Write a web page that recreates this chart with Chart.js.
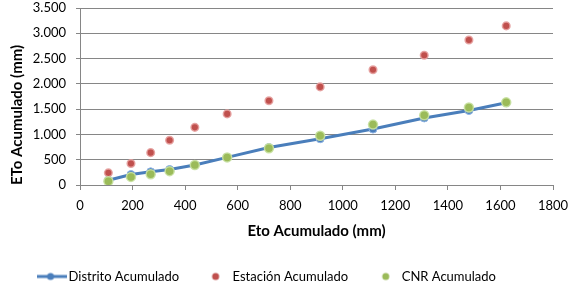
<!DOCTYPE html>
<html>
<head>
<meta charset="utf-8">
<script src="https://cdn.jsdelivr.net/npm/chart.js@4"></script>
<style>
  html, body { margin: 0; padding: 0; background: #fff; }
  #wrap { width: 569px; height: 287px; }
</style>
</head>
<body>
<div id="wrap"><canvas id="myChart"></canvas></div>
<script>
// Valores
const etoX = [108, 194, 269, 341, 437, 560, 719, 914, 1115, 1310, 1480, 1622];
const distrito = [94, 206, 260, 306, 394, 546, 740, 914, 1106, 1326, 1474, 1626];
const estacion = [240, 426, 640, 886, 1140, 1406, 1666, 1940, 2280, 2566, 2866, 3146];
const cnr = [74, 160, 214, 274, 394, 546, 726, 974, 1194, 1380, 1534, 1634];
const seriesNames = ["Distrito Acumulado", "Estación Acumulado", "CNR Acumulado"];
const yTicks = [0, 500, 1000, 1500, 2000, 2500, 3000, 3500];
const xTicks = [0, 200, 400, 600, 800, 1000, 1200, 1400, 1600, 1800];

const blue = "#4a7ebb", red = "#c0504d", green = "#9bbb59";
const font = "Lato, 'Open Sans', sans-serif";

// Puntos {x, y} a partir de los arrays
const toPoints = (ys) => etoX.map((x, i) => ({ x: x, y: ys[i] }));

// Iconos de leyenda dibujados en un canvas
function legendIcon(type, color) {
  const c = document.createElement("canvas");
  c.width = 30; c.height = 10;
  const g = c.getContext("2d");
  g.fillStyle = color;
  if (type === "line") {
    g.strokeStyle = color; g.lineWidth = 3;
    g.beginPath(); g.moveTo(0, 5); g.lineTo(30, 5); g.stroke();
    g.beginPath(); g.arc(14, 5, 3.5, 0, Math.PI * 2); g.fill();
  } else {
    g.beginPath(); g.arc(type, 5, 3.5, 0, Math.PI * 2); g.fill();
  }
  return c;
}

// Mover la leyenda un poco a la izquierda
const legendShift = {
  id: "legendShift",
  afterLayout(chart) {
    if (chart.legend) {
      chart.legend.left -= 8;
      chart.legend.right -= 8;
    }
  },
};

const ctx = document.getElementById("myChart").getContext("2d");
const myChart = new Chart(ctx, {
  type: "scatter",
  plugins: [legendShift],
  data: {
    datasets: [
      {
        label: seriesNames[0],
        data: toPoints(distrito),
        showLine: true,
        borderColor: blue,
        backgroundColor: blue,
        borderWidth: 3,
        pointRadius: 4,
        pointBorderWidth: 1,
        pointBorderColor: "#8fb4e3",
        pointBackgroundColor: blue,
        order: 3,
      },
      {
        label: seriesNames[1],
        data: toPoints(estacion),
        borderColor: "rgba(230,160,158,0.9)",
        backgroundColor: red,
        pointRadius: 3.8,
        pointBorderWidth: 1.5,
        order: 2,
      },
      {
        label: seriesNames[2],
        data: toPoints(cnr),
        borderColor: "rgba(200,225,160,0.9)",
        backgroundColor: green,
        pointRadius: 4.5,
        pointBorderWidth: 1.5,
        order: 1,
      },
    ],
  },
  options: {
    responsive: true,
    maintainAspectRatio: false,
    animation: false,
    layout: { padding: { left: 0, right: 16, top: 8, bottom: -6 } },
    plugins: {
      tooltip: { enabled: false },
      legend: {
        position: "bottom",
        labels: {
          font: { family: font, size: 13 },
          color: "#000",
          usePointStyle: true,
          pointStyleWidth: 21,
          boxHeight: 10,
          padding: 26,
          generateLabels: function (chart) {
            const icons = [legendIcon("line", blue), legendIcon(15, red), legendIcon(16, green)];
            return seriesNames.map((name, i) => ({
              text: name,
              pointStyle: icons[i],
              fillStyle: "transparent",
              strokeStyle: "transparent",
              lineWidth: 0,
              fontColor: "#000",
              datasetIndex: i,
            }));
          },
        },
      },
    },
    scales: {
      x: {
        type: "linear",
        min: 0,
        max: 1800,
        afterBuildTicks: (axis) => { axis.ticks = xTicks.map((v) => ({ value: v })); },
        afterFit: (axis) => { axis.height = 59; axis.paddingRight = 0; },
        grid: { drawOnChartArea: false, drawTicks: true, tickLength: 5, color: "#868686" },
        border: { color: "#868686", width: 1 },
        ticks: {
          font: { family: font, size: 13 },
          color: "#000",
          padding: 8,
          maxRotation: 0,
          callback: (value) => String(value),
        },
        title: {
          display: true,
          text: "Eto Acumulado (mm)",
          font: { family: font, size: 15, weight: "bold" },
          color: "#000",
          padding: { top: 4, bottom: 4 },
        },
      },
      y: {
        type: "linear",
        min: 0,
        max: 3500,
        afterBuildTicks: (axis) => { axis.ticks = yTicks.map((v) => ({ value: v })); },
        afterFit: (axis) => { axis.width = 80; axis.paddingTop = 0; axis.paddingBottom = 0; },
        grid: { color: "#868686", tickLength: 4, drawTicks: true },
        border: { color: "#868686", width: 1 },
        ticks: {
          font: { family: font, size: 13 },
          color: "#000",
          padding: 10,
          callback: function (value) {
            return value.toLocaleString("de-DE"); // separador de miles con punto
          },
        },
        title: {
          display: true,
          text: "ETo Acumulado (mm)",
          align: "start",
          font: { family: font, size: 15, weight: "bold" },
          color: "#000",
          padding: { top: 8, bottom: 0 },
        },
      },
    },
  },
});
</script>
</body>
</html>
